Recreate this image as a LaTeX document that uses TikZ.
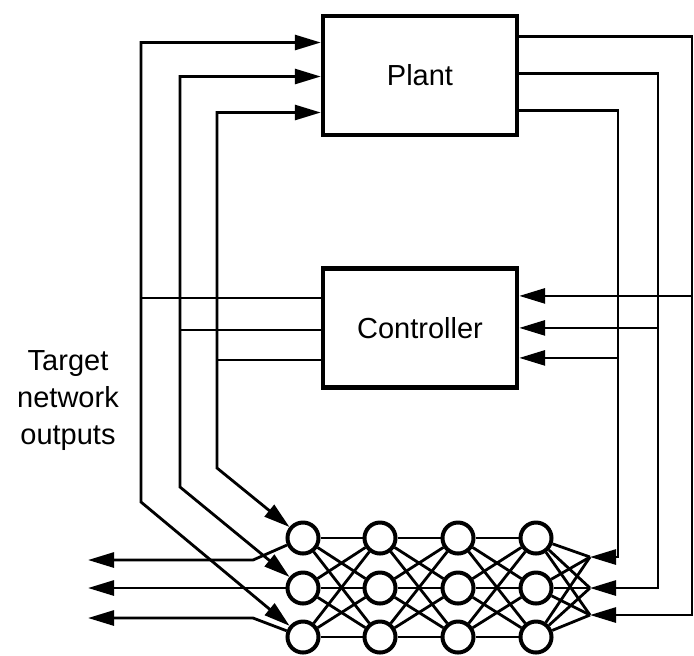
\documentclass[tikz,border=0pt]{standalone}
\usepackage{fontspec}
\setmainfont{Liberation Sans}
\usetikzlibrary{arrows.meta,positioning}

\begin{document}
\begin{tikzpicture}[
  x=0.5pt, y=-0.5pt,
  line width=1.4pt,
  block/.style={rectangle, draw, line width=2.2pt, minimum width=97pt, minimum height=59.5pt, font=\fontsize{14.5pt}{18pt}\selectfont},
  neuron/.style={circle, draw, line width=2pt, fill=white, minimum size=15.5pt, inner sep=0pt},
  arrow/.style={-{Triangle[length=13pt,width=7.5pt]}},
  twoway/.style={{Triangle[length=13pt,width=7.5pt]}-{Triangle[length=13pt,width=7.5pt]}}
]
  \useasboundingbox (0,0) rectangle (694,655);

  \node[block] (plant) at (420,75.5) {Plant};
  \node[block, below=64.5pt of plant] (ctrl) {Controller};
  \node[align=center, font=\fontsize{14.5pt}{18.5pt}\selectfont] (target) at (68,401) {Target\\network\\outputs};

  % network
  \foreach \c/\x in {1/303,2/380,3/458,4/536}
    \foreach \r/\y in {1/538,2/588,3/637}
      \node[neuron] (n-\c-\r) at (\x,\y) {};
  \foreach \c/\d in {1/2,2/3,3/4}
    \foreach \r in {1,2,3}
      \foreach \s in {1,2,3}
        \draw (n-\c-\r) -- (n-\d-\s);

  % ports
  \coordinate (pi1) at ([yshift=16.5pt]plant.west);
  \coordinate (pi2) at ([yshift=-0.5pt]plant.west);
  \coordinate (pi3) at ([yshift=-18.5pt]plant.west);
  \coordinate (po1) at ([yshift=19.5pt]plant.east);
  \coordinate (po2) at ([yshift=1pt]plant.east);
  \coordinate (po3) at ([yshift=-17.5pt]plant.east);
  \coordinate (co1) at ([yshift=15pt]ctrl.west);
  \coordinate (co2) at ([yshift=-1pt]ctrl.west);
  \coordinate (co3) at ([yshift=-16pt]ctrl.west);
  \coordinate (ci1) at ([yshift=16pt]ctrl.east);
  \coordinate (ci2) at ([yshift=0pt]ctrl.east);
  \coordinate (ci3) at ([yshift=-15pt]ctrl.east);

  % bends and free ends
  \coordinate (bl1) at (141,502);
  \coordinate (bl2) at (180,487);
  \coordinate (bl3) at (217,468);
  \coordinate (br1) at (618,557);
  \coordinate (br2) at (658,588);
  \coordinate (br3) at (692,615);
  \coordinate (t1) at (590,557);
  \coordinate (t2) at (590,588);
  \coordinate (t3) at (590,615);
  \coordinate (b1) at (253,560);
  \coordinate (b3) at (253,618);
  \coordinate (o1) at (88,560);
  \coordinate (o2) at (88,588);
  \coordinate (o3) at (88,618);

  % plant inputs / network inputs
  \draw[twoway] (pi1) -| (bl1) -- (n-1-3);
  \draw[twoway] (pi2) -| (bl2) -- (n-1-2);
  \draw[twoway] (pi3) -| (bl3) -- (n-1-1);
  \draw (co1) -- (bl1 |- co1);
  \draw (co2) -- (bl2 |- co2);
  \draw (co3) -- (bl3 |- co3);

  % plant outputs
  \draw[arrow] (po1) -| (br3) -- (t3);
  \draw[arrow] (po2) -| (br2) -- (t2);
  \draw[arrow] (po3) -| (br1) -- (t1);
  \draw[arrow] (br3 |- ci1) -- (ci1);
  \draw[arrow] (br2 |- ci2) -- (ci2);
  \draw[arrow] (br1 |- ci3) -- (ci3);
  \foreach \r in {1,2,3}
    \foreach \k in {1,2,3}
      \draw (n-4-\r) -- (t\k);

  % network outputs
  \draw[arrow] (n-1-1) -- (b1) -- (o1);
  \draw[arrow] (n-1-2) -- (o2);
  \draw[arrow] (n-1-3) -- (b3) -- (o3);
\end{tikzpicture}
\end{document}
